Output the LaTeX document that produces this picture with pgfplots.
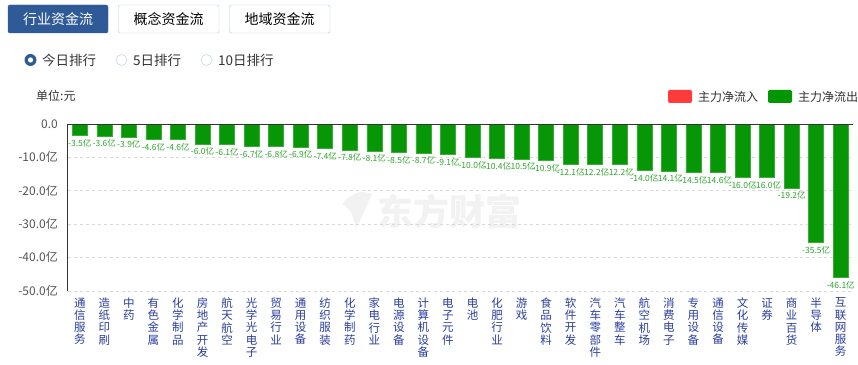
\documentclass[border=0pt]{standalone}
\usepackage{fontspec}
\setmainfont{Noto Sans CJK SC}
\usepackage{pgfplots}
\pgfplotsset{compat=1.18}
\definecolor{barG}{HTML}{069606}
\definecolor{barEdge}{HTML}{38AE38}
\definecolor{lblG}{HTML}{2EA82E}
\definecolor{btnB}{HTML}{2F5A98}
\definecolor{btnE}{HTML}{AFC8E3}
\definecolor{tickB}{HTML}{2A3F9E}
\definecolor{legR}{HTML}{FF3B3B}
\definecolor{legG}{HTML}{039603}
\definecolor{txt}{HTML}{333333}
\definecolor{ytxt}{HTML}{555555}
\begin{document}
\begin{tikzpicture}[x=1pt,y=1pt]
\useasboundingbox[fill=white] (0,0) rectangle (858,364);
% buttons
\draw[fill=btnB,draw=btnB,rounded corners=2pt] (8,359) rectangle (108,331);
\node[white,font=\fontsize{14}{14}\selectfont] at (58,345) {行业资金流};
\draw[draw=btnE,rounded corners=2pt] (118.5,359) rectangle (219,331);
\node[black,font=\fontsize{14}{14}\selectfont] at (168.5,345) {概念资金流};
\draw[draw=btnE,rounded corners=2pt] (229.5,359) rectangle (330,331);
\node[black,font=\fontsize{14}{14}\selectfont] at (279.5,345) {地域资金流};
% radio
\fill[btnB] (30.5,304) circle (6);
\fill[white] (30.5,304) circle (2.6);
\node[anchor=west,inner sep=0,txt,font=\fontsize{13.5}{14}\selectfont] at (42,304) {今日排行};
\draw[btnE] (121.5,304) circle (5.5);
\node[anchor=west,inner sep=0,txt,font=\fontsize{13.5}{14}\selectfont] at (133,304) {5日排行};
\draw[btnE] (206.5,304) circle (5.5);
\node[anchor=west,inner sep=0,txt,font=\fontsize{13.5}{14}\selectfont] at (218,304) {10日排行};
% unit
\node[anchor=west,inner sep=0,txt,font=\fontsize{12}{12}\selectfont] at (36,268) {单位:元};
% legend
\fill[legR,rounded corners=2pt] (668,274) rectangle (692,261);
\node[anchor=west,inner sep=0,txt,font=\fontsize{12}{12}\selectfont] at (698,267.5) {主力净流入};
\fill[legG,rounded corners=2pt] (768,274) rectangle (792,261);
\node[anchor=west,inner sep=0,txt,font=\fontsize{12}{12}\selectfont] at (798,267.5) {主力净流出};
% watermark
\node[black!5,font=\fontsize{36}{36}\selectfont\bfseries,anchor=west,inner sep=0] at (377,152) {东方财富};
\fill[black!5] (342,160) .. controls (352,172) and (362,174) .. (372,170) .. controls (366,158) and (362,146) .. (356,136) .. controls (354,148) and (350,156) .. (342,160) -- cycle;
\begin{axis}[
  at={(67.5pt,73.3pt)}, anchor=south west,
  scale only axis, width=785.5pt, height=166.7pt,
  xmin=-0.5, xmax=31.5, ymin=-50, ymax=0,
  clip=false,
  axis x line=bottom, axis y line=left,
  x axis line style={draw=none,-},
  y axis line style={-,draw=txt},
  major tick length=0pt,
  ymajorgrids, major grid style={dashed,black!15},
  ytick={-50,-40,-30,-20,-10,0},
  yticklabels={-50.0亿,-40.0亿,-30.0亿,-20.0亿,-10.0亿,0.0},
  yticklabel style={font=\fontsize{12}{12}\selectfont,text=ytxt,anchor=east,inner sep=0pt,xshift=-9.5pt},
  xtick={0,...,31},
  xticklabels={{通\\信\\服\\务},{造\\纸\\印\\刷},{中\\药},{有\\色\\金\\属},{化\\学\\制\\品},{房\\地\\产\\开\\发},{航\\天\\航\\空},{光\\学\\光\\电\\子},{贸\\易\\行\\业},{通\\用\\设\\备},{纺\\织\\服\\装},{化\\学\\制\\药},{家\\电\\行\\业},{电\\源\\设\\备},{计\\算\\机\\设\\备},{电\\子\\元\\件},{电\\池},{化\\肥\\行\\业},{游\\戏},{食\\品\\饮\\料},{软\\件\\开\\发},{汽\\车\\零\\部\\件},{汽\\车\\整\\车},{航\\空\\机\\场},{消\\费\\电\\子},{专\\用\\设\\备},{通\\信\\设\\备},{文\\化\\传\\媒},{证\\券},{商\\业\\百\\货},{半\\导\\体},{互\\联\\网\\服\\务}},
  xticklabel style={font=\fontsize{11.5}{12.2}\selectfont,text=tickB,align=center,anchor=north,inner sep=0pt,yshift=-7pt},
  ybar, bar width=15pt, bar shift=0pt,
  nodes near coords={\pgfmathprintnumber[fixed,fixed zerofill,precision=1,assume math mode=true]{\pgfplotspointmeta}亿},
  nodes near coords style={font=\fontsize{8.5}{9}\selectfont,text=lblG,anchor=north,inner sep=0pt,yshift=-3.5pt},
]
\addplot[fill=barG,draw=barEdge,line width=0.6pt] coordinates {
(0,-3.5) (1,-3.6) (2,-3.9) (3,-4.6) (4,-4.6) (5,-6.0) (6,-6.1) (7,-6.7)
(8,-6.8) (9,-6.9) (10,-7.4) (11,-7.8) (12,-8.1) (13,-8.5) (14,-8.7) (15,-9.1)
(16,-10.0) (17,-10.4) (18,-10.5) (19,-10.9) (20,-12.1) (21,-12.2) (22,-12.2) (23,-14.0)
(24,-14.1) (25,-14.5) (26,-14.6) (27,-16.0) (28,-16.0) (29,-19.2) (30,-35.5) (31,-46.1)};
\draw[txt,line width=0.8pt] (rel axis cs:0,1) -- (rel axis cs:1,1);
\end{axis}
\end{tikzpicture}
\end{document}
